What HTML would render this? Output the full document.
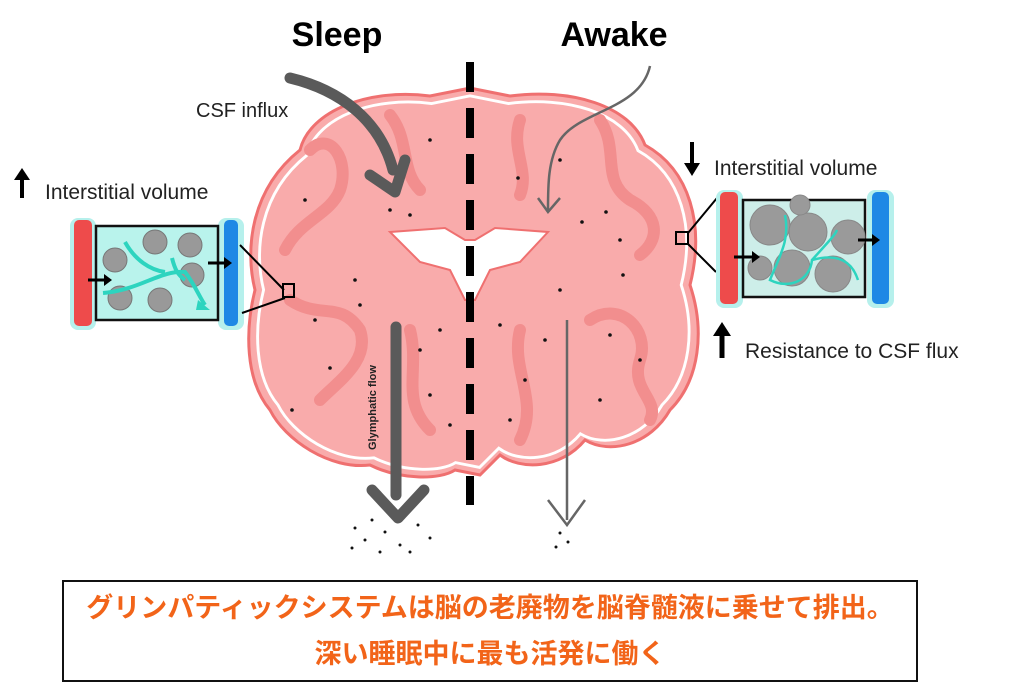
<!DOCTYPE html>
<html><head><meta charset="utf-8"><style>
body{margin:0;background:#fff;width:1024px;height:694px;overflow:hidden}
svg{position:absolute;left:0;top:0}
.box{position:absolute;left:62px;top:580px;width:856px;height:102px;border:2px solid #111;box-sizing:border-box;text-align:center;color:#f26419;font:bold 27px/46px "Liberation Sans","Noto Sans CJK JP",sans-serif;padding-top:3px;white-space:nowrap}
</style></head><body>
<svg width="1024" height="694" viewBox="0 0 1024 694" font-family="Liberation Sans, sans-serif">
<path d="M300,150 C310,110 370,88 430,96 L470,88 L510,96 C570,88 630,105 645,145 C690,170 705,225 690,285 C705,330 700,380 670,410 C650,445 610,455 585,440 C560,470 520,470 500,455 L480,475 L455,470 C440,480 400,480 370,465 C330,470 285,440 270,410 C245,380 245,330 255,290 C245,250 250,190 300,150 Z" fill="#f9abab" stroke="#ef7070" stroke-width="3"/>
<path d="M300,150 C310,110 370,88 430,96 L470,88 L510,96 C570,88 630,105 645,145 C690,170 705,225 690,285 C705,330 700,380 670,410 C650,445 610,455 585,440 C560,470 520,470 500,455 L480,475 L455,470 C440,480 400,480 370,465 C330,470 285,440 270,410 C245,380 245,330 255,290 C245,250 250,190 300,150 Z" fill="none" stroke="#fff" stroke-width="3" transform="translate(470,285) scale(0.96) translate(-470,-285)"/>
<g fill="none" stroke="#f28e8e" stroke-width="12" stroke-linecap="round">
<path d="M310,150 C330,130 350,160 340,190 C330,215 300,220 285,250"/>
<path d="M390,115 C410,140 400,170 420,190"/>
<path d="M520,120 C510,150 530,170 520,195"/>
<path d="M600,120 C620,150 600,180 630,200 C660,215 660,240 640,255"/>
<path d="M290,300 C320,320 340,300 360,330 C370,360 340,380 320,400"/>
<path d="M590,320 C620,300 650,330 640,360 C630,390 660,400 650,420"/>
<path d="M410,330 C420,370 400,400 430,430"/>
<path d="M520,330 C510,370 540,400 520,440"/>
</g>
<path d="M390,232 L445,228 L465,240 L475,240 L495,228 L548,232 L520,262 L490,270 L475,300 L465,300 L450,270 L420,262 Z" fill="#fff" stroke="#ef7070" stroke-width="2"/>
<g fill="#111">
<circle cx="305" cy="200" r="1.8"/><circle cx="390" cy="210" r="1.8"/><circle cx="410" cy="215" r="1.8"/><circle cx="430" cy="140" r="1.8"/><circle cx="518" cy="178" r="1.8"/><circle cx="606" cy="212" r="1.8"/><circle cx="582" cy="222" r="1.8"/><circle cx="620" cy="240" r="1.8"/><circle cx="623" cy="275" r="1.8"/><circle cx="560" cy="290" r="1.8"/><circle cx="315" cy="320" r="1.8"/><circle cx="292" cy="410" r="1.8"/><circle cx="330" cy="368" r="1.8"/><circle cx="420" cy="350" r="1.8"/><circle cx="440" cy="330" r="1.8"/><circle cx="430" cy="395" r="1.8"/><circle cx="450" cy="425" r="1.8"/><circle cx="500" cy="325" r="1.8"/><circle cx="525" cy="380" r="1.8"/><circle cx="545" cy="340" r="1.8"/><circle cx="610" cy="335" r="1.8"/><circle cx="640" cy="360" r="1.8"/><circle cx="600" cy="400" r="1.8"/><circle cx="510" cy="420" r="1.8"/><circle cx="355" cy="280" r="1.8"/><circle cx="360" cy="305" r="1.8"/><circle cx="560" cy="160" r="1.8"/>
<circle cx="355" cy="528" r="1.5"/><circle cx="372" cy="520" r="1.5"/><circle cx="365" cy="540" r="1.5"/><circle cx="385" cy="532" r="1.5"/><circle cx="400" cy="545" r="1.5"/><circle cx="418" cy="525" r="1.5"/><circle cx="430" cy="538" r="1.5"/><circle cx="410" cy="552" r="1.5"/><circle cx="380" cy="552" r="1.5"/><circle cx="352" cy="548" r="1.5"/><circle cx="395" cy="520" r="1.5"/><circle cx="560" cy="533" r="1.5"/><circle cx="568" cy="542" r="1.5"/><circle cx="556" cy="547" r="1.5"/>
</g>
<line x1="470" y1="62" x2="470" y2="505" stroke="#000" stroke-width="8" stroke-dasharray="30,16"/>
<text x="337" y="46" font-size="34" font-weight="bold" text-anchor="middle">Sleep</text>
<text x="614" y="46" font-size="34" font-weight="bold" text-anchor="middle">Awake</text>
<text x="196" y="117" font-size="20" fill="#222">CSF influx</text>
<path d="M290,78 C340,90 380,120 393,170" fill="none" stroke="#5a5a5a" stroke-width="11" stroke-linecap="round"/>
<path d="M370,175 L395,192 L405,160" fill="none" stroke="#5a5a5a" stroke-width="11" stroke-linecap="round" stroke-linejoin="round"/>
<path d="M650,66 C640,110 580,110 560,140 C548,160 548,185 548,210" fill="none" stroke="#666" stroke-width="2.5"/>
<path d="M538,198 L548,212 L560,198" fill="none" stroke="#666" stroke-width="2.5"/>
<line x1="396" y1="327" x2="396" y2="495" stroke="#5a5a5a" stroke-width="11" stroke-linecap="round"/>
<path d="M372,490 L398,518 L424,490" fill="none" stroke="#5a5a5a" stroke-width="11" stroke-linecap="round" stroke-linejoin="round"/>
<text transform="translate(376,450) rotate(-90)" font-size="11" font-weight="bold" fill="#222">Glymphatic flow</text>
<line x1="567" y1="320" x2="567" y2="520" stroke="#666" stroke-width="2.5"/>
<path d="M548,500 L567,525 L585,500" fill="none" stroke="#666" stroke-width="2.5"/>
<path d="M22,172 L22,198" stroke="#000" stroke-width="4"/><path d="M14,180 L22,168 L30,180 Z" fill="#000"/>
<text x="45" y="199" font-size="21" fill="#222">Interstitial volume</text>
<rect x="70" y="218" width="26" height="112" rx="8" fill="#b6f0ec"/>
<rect x="74" y="220" width="18" height="106" rx="5" fill="#ee4b4b"/>
<rect x="218" y="218" width="26" height="112" rx="8" fill="#b6f0ec"/>
<rect x="224" y="220" width="14" height="106" rx="5" fill="#1e88e5"/>
<rect x="96" y="226" width="122" height="94" fill="#b9f3ec" stroke="#111" stroke-width="2.5"/>
<g fill="#999" stroke="#777"><circle cx="115" cy="260" r="12"/><circle cx="155" cy="242" r="12"/><circle cx="190" cy="245" r="12"/><circle cx="192" cy="275" r="12"/><circle cx="120" cy="298" r="12"/><circle cx="160" cy="300" r="12"/></g>
<path d="M103,293 C140,290 160,270 185,272 C195,285 200,298 205,305 M125,242 C135,260 150,270 165,272 M172,258 C175,270 178,275 185,280" fill="none" stroke="#2dd4bf" stroke-width="4"/>
<path d="M198,300 L210,310 L196,310 Z" fill="#2dd4bf"/>
<path d="M88,280 L108,280" stroke="#000" stroke-width="3"/><path d="M104,274 L112,280 L104,286 Z" fill="#000"/>
<path d="M208,263 L228,263" stroke="#000" stroke-width="3"/><path d="M224,257 L232,263 L224,269 Z" fill="#000"/>
<line x1="240" y1="245" x2="284" y2="290" stroke="#000" stroke-width="2"/><line x1="242" y1="313" x2="285" y2="298" stroke="#000" stroke-width="2"/>
<rect x="283" y="284" width="11" height="13" fill="none" stroke="#000" stroke-width="2"/>
<path d="M692,142 L692,166" stroke="#000" stroke-width="4"/><path d="M684,163 L692,176 L700,163 Z" fill="#000"/>
<text x="714" y="175" font-size="21" fill="#222">Interstitial volume</text>
<rect x="676" y="232" width="12" height="12" fill="none" stroke="#000" stroke-width="2"/>
<line x1="688" y1="233" x2="717" y2="198" stroke="#000" stroke-width="2"/><line x1="688" y1="244" x2="716" y2="272" stroke="#000" stroke-width="2"/>
<rect x="716" y="190" width="27" height="118" rx="8" fill="#b6f0ec"/>
<rect x="720" y="192" width="18" height="112" rx="5" fill="#ee4b4b"/>
<rect x="867" y="190" width="27" height="118" rx="8" fill="#b6f0ec"/>
<rect x="872" y="192" width="17" height="112" rx="5" fill="#1e88e5"/>
<rect x="743" y="200" width="122" height="97" fill="#cdeee9" stroke="#111" stroke-width="2.5"/>
<g fill="#9a9a9a" stroke="#888"><circle cx="770" cy="225" r="20"/><circle cx="808" cy="232" r="19"/><circle cx="848" cy="237" r="17"/><circle cx="792" cy="268" r="18"/><circle cx="833" cy="274" r="18"/><circle cx="760" cy="268" r="12"/><circle cx="800" cy="205" r="10"/></g>
<path d="M785,215 C790,240 780,255 770,280 C790,290 810,280 812,260 C830,255 850,255 858,280 M812,260 C830,240 835,235 837,230" fill="none" stroke="#2dd4bf" stroke-width="2.5"/>
<path d="M734,257 L755,257" stroke="#000" stroke-width="3"/><path d="M752,251 L760,257 L752,263 Z" fill="#000"/>
<path d="M858,240 L875,240" stroke="#000" stroke-width="3"/><path d="M872,234 L880,240 L872,246 Z" fill="#000"/>
<path d="M722,334 L722,358" stroke="#000" stroke-width="5"/><path d="M713,336 L722,322 L731,336 Z" fill="#000"/>
<text x="745" y="358" font-size="21" fill="#222">Resistance to CSF flux</text>
</svg>
<div class="box">グリンパティックシステムは脳の老廃物を脳脊髄液に乗せて排出。<br>深い睡眠中に最も活発に働く</div>
</body></html>
